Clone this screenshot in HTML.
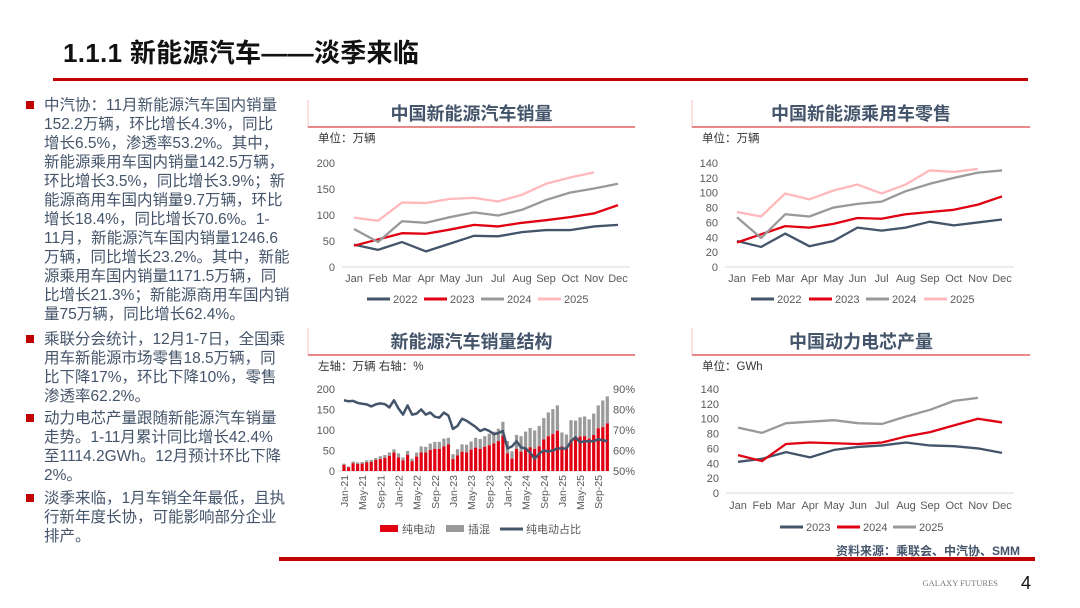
<!DOCTYPE html>
<html><head><meta charset="utf-8">
<style>
body{margin:0;width:1080px;height:608px;background:#fff;overflow:hidden;position:relative;font-family:"Liberation Sans","Noto Sans CJK SC",sans-serif;}
#title{position:absolute;left:63px;top:33px;font-size:26px;font-weight:bold;color:#111;letter-spacing:0.3px;}
#rule{position:absolute;left:53px;top:78px;width:975px;height:3px;background:#c00000;}
.bul{position:absolute;left:44px;width:260px;font-size:15.5px;line-height:19px;color:#44546a;}
.bul:before{content:"";position:absolute;left:-18px;top:5px;width:8px;height:8px;background:#c00000;}
svg{position:absolute;left:0;top:0;}
</style></head><body>
<div id="title">1.1.1 新能源汽车——淡季来临</div>
<div id="rule"></div>
<div class="bul" style="top:96px">中汽协：11月新能源汽车国内销量<br>152.2万辆，环比增长4.3%，同比<br>增长6.5%，渗透率53.2%。其中，<br>新能源乘用车国内销量142.5万辆，<br>环比增长3.5%，同比增长3.9%；新<br>能源商用车国内销量9.7万辆，环比<br>增长18.4%，同比增长70.6%。1-<br>11月，新能源汽车国内销量1246.6<br>万辆，同比增长23.2%。其中，新能<br>源乘用车国内销量1171.5万辆，同<br>比增长21.3%；新能源商用车国内销<br>量75万辆，同比增长62.4%。</div>
<div class="bul" style="top:330px">乘联分会统计，12月1-7日，全国乘<br>用车新能源市场零售18.5万辆，同<br>比下降17%，环比下降10%，零售<br>渗透率62.2%。</div>
<div class="bul" style="top:409px">动力电芯产量跟随新能源汽车销量<br>走势。1-11月累计同比增长42.4%<br>至1114.2GWh。12月预计环比下降<br>2%。</div>
<div class="bul" style="top:489px">淡季来临，1月车销全年最低，且执<br>行新年度长协，可能影响部分企业<br>排产。</div>
<svg id="s" width="1080" height="608"></svg>
<script>
const months=["Jan","Feb","Mar","Apr","May","Jun","Jul","Aug","Sep","Oct","Nov","Dec"];
const nev2022=[43,33,48,30,45,60,59,67,71,71,78,81];
const nev2023=[41,53,65,64,72,81,78,85,90,96,103,119];
const nev2024=[73,48,88,85,96,105,99,110,129,143,151,160];
const nev2025=[95,89,124,123,131,133,126,139,160,172,182];
const nevTicks=[0,50,100,150,200];
const pv2022=[35,27,45,28,35,53,49,53,61,56,60,64];
const pv2023=[33,44,55,53,58,66,65,71,74,77,84,95];
const pv2024=[67,39,71,68,80,85,88,102,112,120,127,130];
const pv2025=[74,68,99,91,103,111,99,111,130,128,132];
const pvTicks=[0,20,40,60,80,100,120,140];
const bat2023=[42,46,55,48,58,62,64,68,64,63,60,54];
const bat2024=[51,43,66,68,67,66,68,76,82,91,100,95];
const bat2025=[88,81,94,96,98,94,93,103,112,124,128];
const batTicks=[0,20,40,60,80,100,120,140];
const structMonths=["Jan-21","Feb-21","Mar-21","Apr-21","May-21","Jun-21","Jul-21","Aug-21","Sep-21","Oct-21","Nov-21","Dec-21","Jan-22","Feb-22","Mar-22","Apr-22","May-22","Jun-22","Jul-22","Aug-22","Sep-22","Oct-22","Nov-22","Dec-22","Jan-23","Feb-23","Mar-23","Apr-23","May-23","Jun-23","Jul-23","Aug-23","Sep-23","Oct-23","Nov-23","Dec-23","Jan-24","Feb-24","Mar-24","Apr-24","May-24","Jun-24","Jul-24","Aug-24","Sep-24","Oct-24","Nov-24","Dec-24","Jan-25","Feb-25","Mar-25","Apr-25","May-25","Jun-25","Jul-25","Aug-25","Sep-25","Oct-25","Nov-25"];
const bevSales=[15,9,19,17,18,21,22,27,29,32,37,45,33,26,39,24,35,45,45,51,54,54,60,65,29,38,47,45,52,57,54,59,63,67,73,86,43,30,54,47,55,58,54,60,77,85,90,98,60,55,76,78,84,85,79,88,104,107,116];
const phevSales=[3,2,4,4,4,5,5,5,7,7,8,8,10,7,10,6,10,15,14,16,17,17,19,16,12,15,18,19,20,24,24,26,28,29,30,34,30,18,34,38,41,47,45,50,52,58,61,62,34,34,48,45,47,48,47,52,56,65,66];
const bevShare=[84.5,84,84.2,83.2,82.8,82.5,81.5,82.5,83,82.6,81,84.5,80.5,77.5,82,77.5,78,80,77.5,78.5,76.5,76,78.5,77,70.5,72,75.5,74.5,73,71.5,69.5,70.5,69.5,68,68.5,69.5,61,62,64.5,61.5,61,59,56,58.5,60,59.5,60,61,61,61,64.5,66.5,64,64.5,64.5,64.5,65.5,65,64.5];
const structLeftTicks=[0,50,100,150,200];
const structRightTicks=["50%","60%","70%","80%","90%"];
const structRightVals=[50,60,70,80,90];

const svg=document.getElementById('s');
const NS="http://www.w3.org/2000/svg";
function mk(tag,attrs,parent,text){const e=document.createElementNS(NS,tag);for(const k in attrs)e.setAttribute(k,attrs[k]);if(text!==undefined)e.textContent=text;(parent||svg).appendChild(e);return e;}
const FONT='"Liberation Sans","Noto Sans CJK SC",sans-serif';
const AXC="#595959";

function panel(x0,x1,y,title,unit,name){
  const g=mk('g',{});
  
  
  mk('line',{x1:x0,y1:y-27,x2:x0,y2:y,stroke:'#f4c0c0','stroke-width':1},g);
  mk('line',{x1:x0,y1:y,x2:x1,y2:y,stroke:'#e06060','stroke-width':1.5},g);
  const t=mk('text',{x:(x0+x1)/2,y:y-7,'text-anchor':'middle','font-size':18,'font-weight':'bold',fill:'#44546a','font-family':FONT},g,title);
  
  
  const u=mk('text',{x:x0+10,y:y+15,'font-size':11.5,fill:'#333','font-family':FONT},g,unit);
  
  
}

function lineChart(cfg){
  const {xL,xR,y0,yTop,max,ticks,series,colors,names,legend,name,labY,legY}=cfg;
  const sx=i=>xL+(xR-xL)*i/11;
  const sy=v=>y0-(y0-yTop)*v/max;
  mk('line',{x1:xL-12,y1:y0,x2:xR+12,y2:y0,stroke:'#d9d9d9','stroke-width':1});
  ticks.forEach(t=>{const e=mk('text',{x:xL-19,y:sy(t)+4,'text-anchor':'end','font-size':11,fill:AXC,'font-family':FONT},svg,String(t));
    
    });
  months.forEach((m,i)=>{const e=mk('text',{x:sx(i),y:labY,'text-anchor':'middle','font-size':11,fill:AXC,'font-family':FONT},svg,m);
    
    });
  series.forEach((s,k)=>{
    const p=mk('polyline',{points:s.map((v,i)=>sx(i)+','+sy(v)).join(' '),fill:'none',stroke:colors[k],'stroke-width':2.3,'stroke-linejoin':'round'});
    
    
    const lx=legend[k];
    mk('line',{x1:lx,y1:legY,x2:lx+23,y2:legY,stroke:colors[k],'stroke-width':3});
    const lt=mk('text',{x:lx+26,y:legY+4,'font-size':11,fill:AXC,'font-family':FONT},svg,names[k]);
    
    
  });
}

panel(308,635,127,'中国新能源汽车销量','单位：万辆','nev-sales');
lineChart({xL:354,xR:618,y0:267,yTop:163,max:200,ticks:nevTicks,series:[nev2022,nev2023,nev2024,nev2025],colors:['#44546a','#e00012','#999999','#ffb8bc'],names:['2022','2023','2024','2025'],legend:[367,424,481,538],name:'nev-sales',labY:282,legY:299});

panel(692,1030,127,'中国新能源乘用车零售','单位：万辆','pv-retail');
lineChart({xL:737,xR:1002,y0:267,yTop:163,max:140,ticks:pvTicks,series:[pv2022,pv2023,pv2024,pv2025],colors:['#44546a','#e00012','#999999','#ffb8bc'],names:['2022','2023','2024','2025'],legend:[751,809,866,924],name:'pv-retail',labY:282,legY:299});

panel(692,1030,355,'中国动力电芯产量','单位：GWh','battery');
lineChart({xL:738,xR:1002,y0:493,yTop:389,max:140,ticks:batTicks,series:[bat2023,bat2024,bat2025],colors:['#44546a','#e00012','#999999'],names:['2023','2024','2025'],legend:[780,837,893],name:'battery',labY:509,legY:527});

panel(308,635,355,'新能源汽车销量结构','左轴：万辆  右轴：%','structure');
(function(){
  const xL=344,step=4.54,y0=471,yTop=389;
  const sx=i=>xL+i*step;
  const sy=v=>y0-(y0-yTop)*v/200;
  const sr=p=>y0-(y0-yTop)*(p-50)/40;
  mk('line',{x1:338,y1:y0,x2:606,y2:y0,stroke:'#d9d9d9','stroke-width':1});
  structLeftTicks.forEach(t=>{const e=mk('text',{x:335,y:sy(t)+4,'text-anchor':'end','font-size':11,fill:AXC,'font-family':FONT},svg,String(t));
    
    });
  structRightVals.forEach((v,i)=>{const e=mk('text',{x:613,y:sr(v)+4,'font-size':11,fill:AXC,'font-family':FONT},svg,structRightTicks[i]);
    
    });
  structMonths.forEach((m,i)=>{
    const tot=bevSales[i]+phevSales[i];
    const r1=mk('rect',{x:sx(i)-1.6,y:sy(tot),width:3.2,height:sy(bevSales[i])-sy(tot),fill:'#9a9a9a'});
    
    
    const r2=mk('rect',{x:sx(i)-1.6,y:sy(bevSales[i]),width:3.2,height:y0-sy(bevSales[i]),fill:'#e00012'});
    
    
    if(i%4===0){const t=mk('text',{x:sx(i)+4,y:475,'text-anchor':'end','font-size':10.5,fill:AXC,'font-family':FONT,transform:'rotate(-90 '+(sx(i)+4)+' 475)'},svg,m);
      
      }
  });
  const p=mk('polyline',{points:bevShare.map((v,i)=>sx(i)+','+sr(v)).join(' '),fill:'none',stroke:'#44546a','stroke-width':2.5,'stroke-linejoin':'round'});
  
  
  const ly=529;
  mk('rect',{x:380,y:ly-4,width:18,height:7,fill:'#e00012'});
  const a=mk('text',{x:402,y:ly+4,'font-size':11,fill:AXC,'font-family':FONT},svg,'纯电动');
  
  
  mk('rect',{x:446,y:ly-4,width:18,height:7,fill:'#9a9a9a'});
  const b=mk('text',{x:468,y:ly+4,'font-size':11,fill:AXC,'font-family':FONT},svg,'插混');
  
  
  mk('line',{x1:500,y1:ly,x2:523,y2:ly,stroke:'#44546a','stroke-width':3});
  const c=mk('text',{x:526,y:ly+4,'font-size':11,fill:AXC,'font-family':FONT},svg,'纯电动占比');
  
  
})();

const src=mk('text',{x:1020,y:555,'text-anchor':'end','font-size':12,'font-weight':'bold',fill:'#44546a','font-family':FONT},svg,'资料来源：乘联会、中汽协、SMM');


const bar=mk('rect',{x:279,y:557,width:756,height:4,fill:'#c00000'});


const gf=mk('text',{x:998,y:586,'text-anchor':'end','font-size':8.5,fill:'#777','font-family':'"Liberation Serif",serif'},svg,'GALAXY FUTURES');


const pg=mk('text',{x:1021,y:589,'font-size':18,fill:'#111','font-family':FONT},svg,'4');


</script>
</body></html>
